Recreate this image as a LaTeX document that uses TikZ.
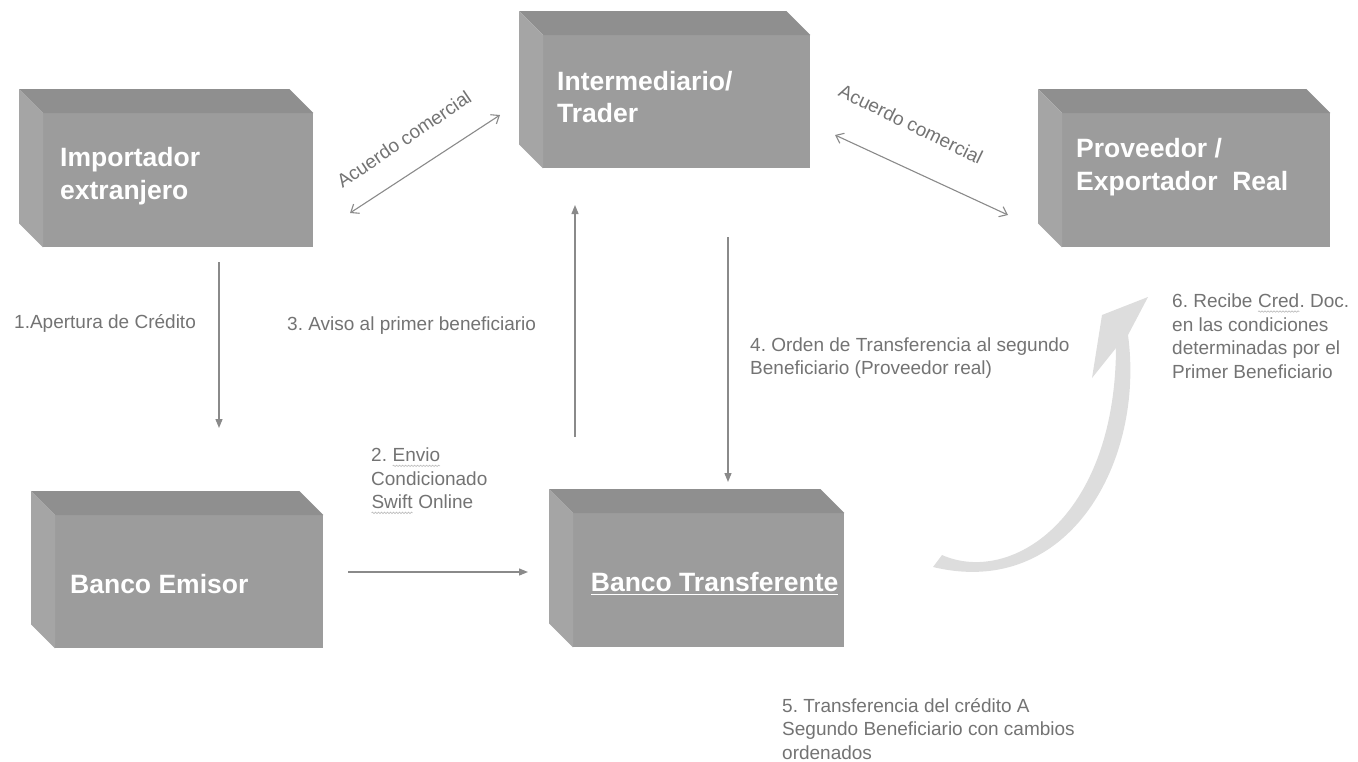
\documentclass[tikz,border=0pt]{standalone}
\usepackage{fontspec}
\setmainfont{Liberation Sans}
\usetikzlibrary{arrows.meta,decorations.pathmorphing}
\frenchspacing
\definecolor{frontc}{HTML}{9C9C9C}
\definecolor{topc}{HTML}{8F8F8F}
\definecolor{sidec}{HTML}{A5A5A5}
\definecolor{lbl}{HTML}{737373}
\definecolor{arrc}{HTML}{8A8A8A}
\definecolor{curvc}{HTML}{DDDDDD}
\newcommand\cubefaces[1]{%
  \fill[topc] (#1.north west) -- (#1.north east) -- ([shift={(-24,-24)}]#1.north east) -- ([shift={(-24,-24)}]#1.north west) -- cycle;
  \fill[sidec] (#1.north west) -- (#1.south west) -- ([shift={(-24,-24)}]#1.south west) -- ([shift={(-24,-24)}]#1.north west) -- cycle;}
\newcommand\sqg[1]{\tikz[baseline=(w.base)]{\node[inner sep=0pt,outer sep=0pt,text=lbl] (w) {#1};
  \draw[gray!50, line width=0.7pt, decorate, decoration={snake, amplitude=0.7pt, segment length=3pt}] ([yshift=-4pt]w.base west) -- ([yshift=-4pt]w.base east);}}
\newcommand\ulw[1]{\tikz[baseline=(w.base)]{\node[inner sep=0pt,outer sep=0pt,text=white] (w) {#1};
  \draw[white, line width=1.4pt] ([yshift=-3pt]w.base west) -- ([yshift=-3pt]w.base east);}}
\begin{document}
\begin{tikzpicture}[x=1pt,y=-1pt,
  front/.style={fill=frontc, draw=none, anchor=north west, inner sep=0pt},
  boxtxt/.style={text=white, anchor=west, align=left, inner sep=0pt,
    font=\fontsize{26.5}{32.5}\selectfont\bfseries},
  lbltxt/.style={text=lbl, anchor=west, align=left, inner sep=0pt,
    font=\fontsize{19}{23.5}\selectfont},
  arr/.style={draw=arrc, line width=1.3pt, -{Triangle[length=9pt,width=7pt]}},
  darr/.style={draw=arrc, line width=1.1pt, {Straight Barb[length=7pt,width=11pt]}-{Straight Barb[length=7pt,width=11pt]}}]
\useasboundingbox (0,0) rectangle (1358,761);

% boxes (front faces)
\node[front, minimum width=270pt, minimum height=134pt] (imp) at (43,113) {};
\node[front, minimum width=267pt, minimum height=133pt] (int) at (543,35) {};
\node[front, minimum width=268pt, minimum height=134pt] (prov) at (1062,113) {};
\node[front, minimum width=268pt, minimum height=133pt] (emi) at (55,515) {};
\node[front, minimum width=271pt, minimum height=134pt] (tra) at (573,513) {};
\cubefaces{imp}
\cubefaces{int}
\cubefaces{prov}
\cubefaces{emi}
\cubefaces{tra}

% box texts
\node[boxtxt] (impT) at (60,176) {Importador\\extranjero};
\node[boxtxt] (intT) at (557,97) {Intermediario/\\Trader};
\node[boxtxt] (provT) at (1076,167) {Proveedor /\\Exportador\ \ Real};
\node[boxtxt] (emiT) at (70,584) {Banco Emisor};
\node[boxtxt] (traT) at (590,584) {\ulw{Banco Transferente}};

% curved arrow
\fill[curvc] (1148,297) -- (1102,315) -- (1092,378) -- (1116,348)
  .. controls (1115,520) and (1010,585) .. (942,555)
  -- (933,567)
  .. controls (1070,600) and (1145,460) .. (1128,335) -- cycle;

% connectors
\coordinate (a1s) at (219,262); \coordinate (a1e) at (219,428);
\coordinate (a2s) at (348,572); \coordinate (a2e) at (528,572);
\coordinate (a3s) at (575,437); \coordinate (a3e) at (575,205);
\coordinate (a4s) at (728,237); \coordinate (a4e) at (728,482);
\coordinate (d1s) at (350,213); \coordinate (d1e) at (500,115);
\coordinate (d2s) at (835,135); \coordinate (d2e) at (1008,215);
\draw[arr] (a1s) -- (a1e);
\draw[arr] (a2s) -- (a2e);
\draw[arr] (a3s) -- (a3e);
\draw[arr] (a4s) -- (a4e);
\draw[darr] (d1s) -- (d1e);
\draw[darr] (d2s) -- (d2e);

% labels
\node[lbltxt, anchor=center, rotate=34] (ac1) at (404,139) {Acuerdo comercial};
\node[lbltxt, anchor=center, rotate=-26] (ac2) at (911,124) {Acuerdo comercial};
\node[lbltxt] (l1) at (14,323) {1.Apertura de Crédito};
\node[lbltxt] (l3) at (287,326) {3. Aviso al primer beneficiario};
\node[lbltxt] (l4) at (750,358) {4. Orden de Transferencia al segundo\\Beneficiario (Proveedor real)};
\node[lbltxt] (l2) at (371,481) {2. \sqg{Envio}\\Condicionado\\\sqg{Swift} Online};
\node[lbltxt] (l5) at (782,729) {5. Transferencia del crédito A\\Segundo Beneficiario con cambios\\ordenados};
\node[lbltxt] (l6) at (1172,336) {6. Recibe \sqg{Cred}. Doc.\\en las condiciones\\determinadas por el\\Primer Beneficiario};
\end{tikzpicture}
\end{document}
